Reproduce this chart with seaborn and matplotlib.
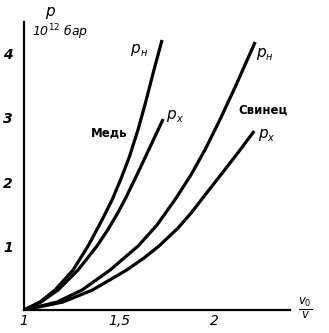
import matplotlib
matplotlib.use("Agg")
import matplotlib.pyplot as plt
import seaborn as sns
import pandas as pd

# Data (x = v0/v, y = p in 10^12 bar)
cu_h_x = [1.0, 1.084, 1.163, 1.258, 1.337, 1.41, 1.463, 1.51, 1.555, 1.60, 1.64, 1.679, 1.726]
cu_h_y = [0.0, 0.125, 0.3125, 0.625, 1.0, 1.406, 1.719, 2.05, 2.40, 2.82, 3.25, 3.70, 4.219]
cu_x_x = [1.0, 1.089, 1.179, 1.284, 1.384, 1.44, 1.49, 1.535, 1.60, 1.665, 1.732]
cu_x_y = [0.0, 0.125, 0.3125, 0.625, 1.0, 1.25, 1.50, 1.75, 2.15, 2.56, 2.984]
pb_h_x = [1.0, 1.174, 1.305, 1.453, 1.60, 1.70, 1.80, 1.88, 1.955, 2.03, 2.11, 2.216]
pb_h_y = [0.0, 0.125, 0.3125, 0.625, 1.0, 1.33, 1.75, 2.12, 2.52, 2.97, 3.48, 4.1875]
pb_x_x = [1.0, 1.205, 1.36, 1.54, 1.63, 1.71, 1.81, 1.88, 1.953, 2.04, 2.126, 2.211]
pb_x_y = [0.0, 0.125, 0.3125, 0.625, 0.81, 1.0, 1.28, 1.52, 1.80, 2.13, 2.46, 2.797]

x_ticks = [1.0, 1.5, 2.0]
x_tick_labels = ["1", "1,5", "2"]
y_ticks = [1, 2, 3, 4]
y_tick_labels = ["1", "2", "3", "4"]

frames = []
for name, xs, ys in [("cu_h", cu_h_x, cu_h_y), ("cu_x", cu_x_x, cu_x_y),
                     ("pb_h", pb_h_x, pb_h_y), ("pb_x", pb_x_x, pb_x_y)]:
    frames.append(pd.DataFrame({"x": xs, "y": ys, "curve": name}))
df = pd.concat(frames, ignore_index=True)

sns.set_style("white")
plt.rcParams["font.family"] = ["DejaVu Sans"]

fig = plt.figure(figsize=(3.29, 3.33), dpi=100)
ax = fig.add_axes([0.073, 0.069, 0.809, 0.865])

sns.lineplot(data=df, x="x", y="y", hue="curve", units="curve", estimator=None,
             sort=False, palette=["black"] * 4, linewidth=2.3, legend=False, ax=ax,
             solid_joinstyle="round", solid_capstyle="butt")

ax.set_xlim(1.0, 2.40)
ax.set_ylim(0, 4.5)
for s in ["top", "right"]:
    ax.spines[s].set_visible(False)
for s in ["left", "bottom"]:
    ax.spines[s].set_color("black")
    ax.spines[s].set_linewidth(1.6)

ax.set_xticks(x_ticks)
ax.set_xticklabels(x_tick_labels, fontsize=10, style="italic")
ax.set_yticks(y_ticks)
ax.set_yticklabels(y_tick_labels, fontsize=10, style="italic", fontweight="bold")
ax.tick_params(axis="both", direction="in", length=4, width=1, colors="black", pad=3)
ax.tick_params(axis="y", pad=8)
ax.set_xlabel("")
ax.set_ylabel("")

kw = dict(color="black", clip_on=False)
ax.text(1.137, 4.66, "p", fontsize=11, style="italic", ha="center", va="center", **kw)
ax.text(1.04, 4.34, "10$^{12}$ бар", fontsize=9, style="italic", ha="left", va="center", **kw)
ax.text(1.61, 4.09, "p", fontsize=11, style="italic", ha="right", va="center", **kw)
ax.text(1.612, 4.02, "н", fontsize=7, style="italic", ha="left", va="center", **kw)
ax.text(2.27, 4.03, "p", fontsize=11, style="italic", ha="right", va="center", **kw)
ax.text(2.272, 3.96, "н", fontsize=7, style="italic", ha="left", va="center", **kw)
ax.text(1.447, 2.77, "Медь", fontsize=8.5, fontweight="bold", ha="center", va="center", **kw)
ax.text(1.80, 3.05, "p", fontsize=11, style="italic", ha="right", va="center", **kw)
ax.text(1.802, 2.98, "x", fontsize=7, style="italic", ha="left", va="center", **kw)
ax.text(2.258, 3.125, "Свинец", fontsize=8.5, fontweight="bold", ha="center", va="center", **kw)
ax.text(2.28, 2.76, "p", fontsize=11, style="italic", ha="right", va="center", **kw)
ax.text(2.282, 2.69, "x", fontsize=7, style="italic", ha="left", va="center", **kw)
ax.text(2.48, 0.02, r"$\frac{v_0}{v}$", fontsize=12, ha="center", va="center", **kw)

fig.savefig("out.png", dpi=100)
